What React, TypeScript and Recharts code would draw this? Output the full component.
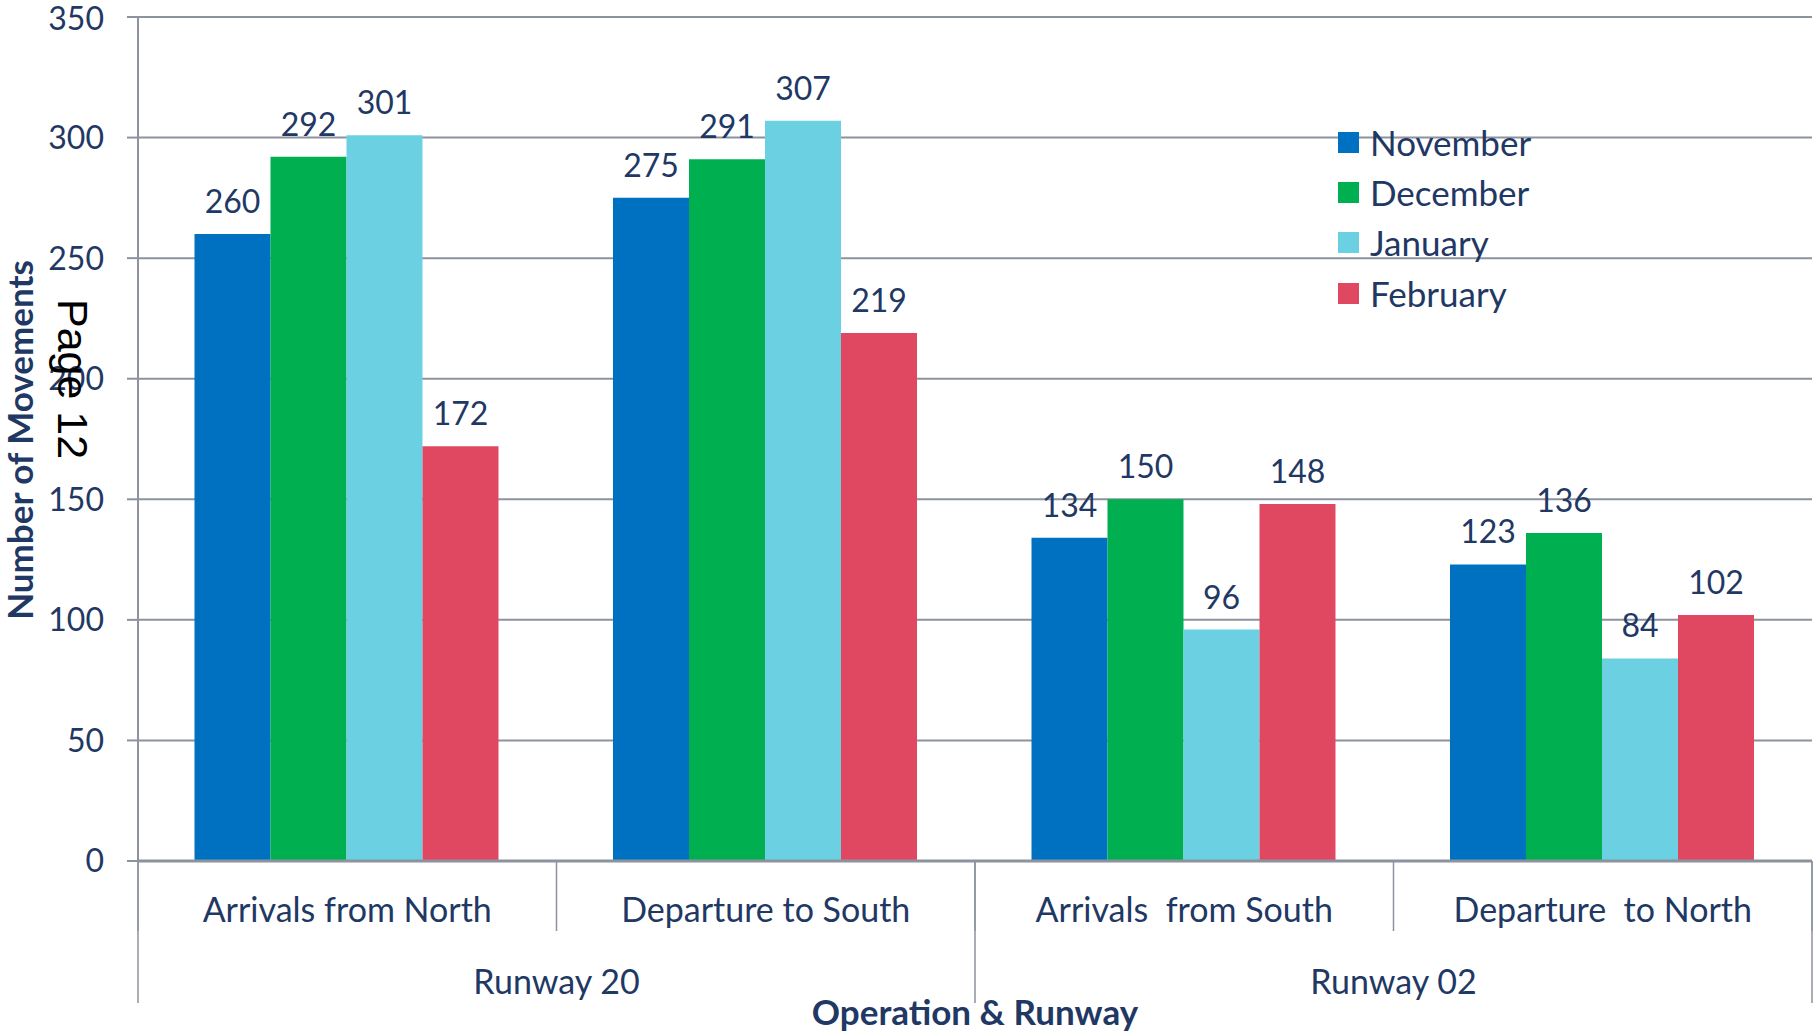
import React from "react";
import { Bar, BarChart, CartesianGrid, LabelList, Legend, XAxis, YAxis, Label } from "recharts";

const CATEGORIES = ["Arrivals from North", "Departure to South", "Arrivals  from South", "Departure  to North"];
const GROUPS = ["Runway 20", "Runway 20", "Runway 02", "Runway 02"];
const NOVEMBER = [260, 275, 134, 123];
const DECEMBER = [292, 291, 150, 136];
const JANUARY = [301, 307, 96, 84];
const FEBRUARY = [172, 219, 148, 102];
const Y_TICKS = [0, 50, 100, 150, 200, 250, 300, 350];

const SERIES = [
  { key: "November", values: NOVEMBER, color: "#0070c0" },
  { key: "December", values: DECEMBER, color: "#00b050" },
  { key: "January", values: JANUARY, color: "#6bd1e2" },
  { key: "February", values: FEBRUARY, color: "#e04862" },
];

const data = CATEGORIES.map((name, i) => {
  const row: Record<string, string | number> = { name, group: GROUPS[i] };
  SERIES.forEach((s) => (row[s.key] = s.values[i]));
  return row;
});

const W = 1816;
const H = 1032;
const PLOT_LEFT = 138;
const PLOT_RIGHT = 1812;
const PLOT_TOP = 17;
const AXIS_Y = 861;
const BAND = (PLOT_RIGHT - PLOT_LEFT) / CATEGORIES.length;
const HALF = BAND / 2;

const NAVY = "#1f3864";
const GRID = "#8c939e";
const FONT = "Lato, 'Open Sans', sans-serif";

function CategoryTick(props: any) {
  const { x, payload, index } = props;
  return (
    <g>
      <text
        x={x}
        y={908}
        textAnchor="middle"
        dominantBaseline="central"
        fill={NAVY}
        fontSize={34}
        fontFamily={FONT}
        style={{ whiteSpace: "pre" }}
      >
        {payload.value}
      </text>
      <line x1={x - HALF} x2={x - HALF} y1={AXIS_Y} y2={931} stroke={GRID} strokeWidth={1.5} />
      {index === CATEGORIES.length - 1 && (
        <line x1={x + HALF} x2={x + HALF} y1={AXIS_Y} y2={931} stroke={GRID} strokeWidth={1.5} />
      )}
    </g>
  );
}

function GroupTick(props: any) {
  const { x, index } = props;
  const starts = index === 0 || GROUPS[index] !== GROUPS[index - 1];
  if (!starts) return <g />;
  let count = 0;
  for (let j = index; j < GROUPS.length && GROUPS[j] === GROUPS[index]; j++) count++;
  const cx = x - HALF + (count * BAND) / 2;
  const isLast = index + count >= GROUPS.length;
  return (
    <g>
      <text
        x={cx}
        y={980}
        textAnchor="middle"
        dominantBaseline="central"
        fill={NAVY}
        fontSize={34}
        fontFamily={FONT}
      >
        {GROUPS[index]}
      </text>
      <line x1={x - HALF} x2={x - HALF} y1={AXIS_Y} y2={1003} stroke={GRID} strokeWidth={1.5} />
      {isLast && (
        <line x1={x - HALF + count * BAND} x2={x - HALF + count * BAND} y1={AXIS_Y} y2={1003} stroke={GRID} strokeWidth={1.5} />
      )}
    </g>
  );
}

function LegendContent() {
  return (
    <div style={{ fontFamily: FONT, whiteSpace: "nowrap", width: 300 }}>
      {SERIES.map((s) => (
        <div key={s.key} style={{ display: "flex", alignItems: "center", height: 50.4 }}>
          <span
            style={{ width: 21, height: 21, flexShrink: 0, background: s.color, display: "inline-block", marginRight: 11 }}
          />
          <span style={{ fontSize: 35, color: NAVY, lineHeight: "35px" }}>{s.key}</span>
        </div>
      ))}
    </div>
  );
}

export default function App() {
  return (
    <div style={{ position: "absolute", left: 0, top: 0, width: W, height: H, background: "#fff" }}>
      <BarChart
        width={W}
        height={H}
        data={data}
        margin={{ top: PLOT_TOP, right: W - PLOT_RIGHT, bottom: 29, left: 0 }}
        barCategoryGap="13.5%"
        barGap={0}
      >
        <CartesianGrid vertical={false} stroke={GRID} strokeWidth={2} />
        <XAxis
          dataKey="name"
          interval={0}
          height={70}
          tickLine={false}
          axisLine={{ stroke: GRID, strokeWidth: 3 }}
          tick={(p: any) => <CategoryTick {...p} />}
        />
        <XAxis
          dataKey="name"
          xAxisId="group"
          interval={0}
          height={72}
          tickLine={false}
          axisLine={false}
          tick={(p: any) => <GroupTick {...p} />}
        >
          <Label
            content={() => (
              <text
                x={(PLOT_LEFT + PLOT_RIGHT) / 2}
                y={1011}
                textAnchor="middle"
                dominantBaseline="central"
                fill={NAVY}
                fontSize={35}
                fontWeight="bold"
                fontFamily={FONT}
              >
                Operation &amp; Runway
              </text>
            )}
          />
        </XAxis>
        <YAxis
          width={PLOT_LEFT}
          domain={[0, 350]}
          ticks={Y_TICKS}
          tickSize={11}
          tickMargin={23}
          tickLine={{ stroke: GRID, strokeWidth: 2 }}
          axisLine={{ stroke: GRID, strokeWidth: 2 }}
          tick={{ fill: NAVY, fontSize: 32, fontFamily: FONT }}
        >
          <Label
            content={() => (
              <text
                x={19}
                y={440}
                transform="rotate(-90 19 440)"
                textAnchor="middle"
                dominantBaseline="central"
                fill={NAVY}
                fontSize={35}
                fontWeight="bold"
                fontFamily={FONT}
              >
                Number of Movements
              </text>
            )}
          />
        </YAxis>
        <Legend
          verticalAlign="middle"
          align="center"
          layout="vertical"
          wrapperStyle={{ left: 1338, top: 117, width: 0, height: 0, overflow: "visible" }}
          content={() => <LegendContent />}
        />
        {SERIES.map((s) => (
          <Bar key={s.key} dataKey={s.key} fill={s.color} isAnimationActive={false}>
            <LabelList dataKey={s.key} position="top" offset={21} fill={NAVY} fontSize={32} fontFamily={FONT} />
          </Bar>
        ))}
      </BarChart>
      <svg width={W} height={H} style={{ position: "absolute", left: 0, top: 0, pointerEvents: "none" }}>
        <text
          x={58}
          y={299}
          transform="rotate(90 58 299)"
          fill="#000"
          fontSize={43}
          fontFamily="'Liberation Sans', Arial, sans-serif"
        >
          Page 12
        </text>
      </svg>
    </div>
  );
}
